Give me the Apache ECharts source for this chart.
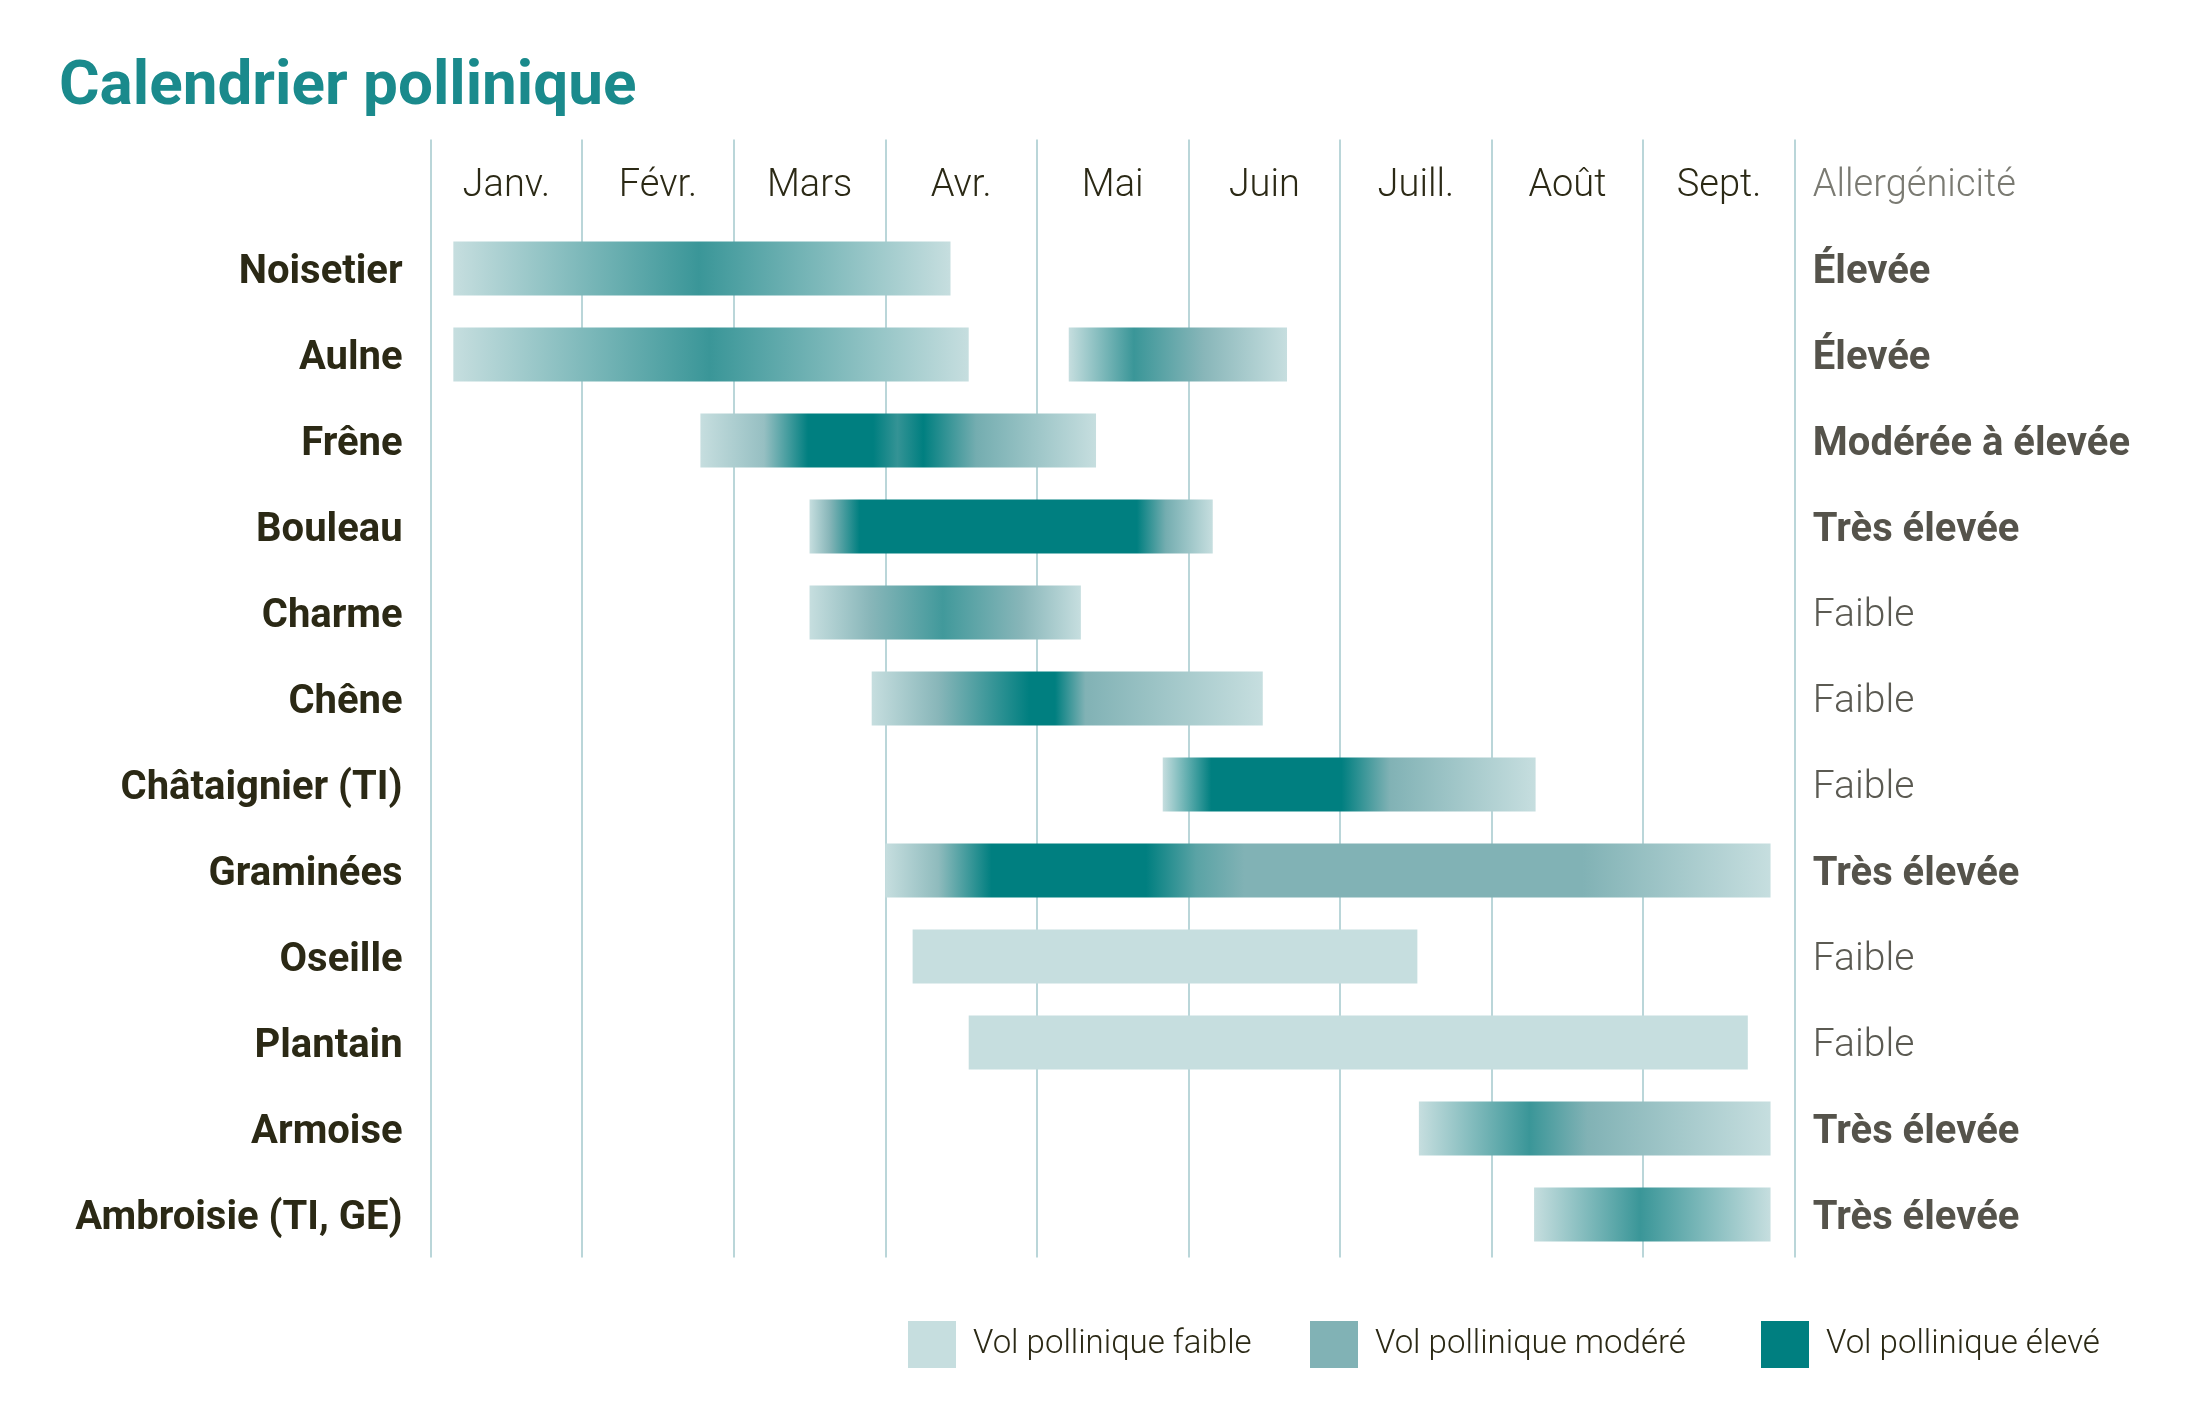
<!DOCTYPE html>
<html>
<head>
    <meta charset="utf-8">
    <title>Calendrier pollinique</title>
    <script src="https://cdn.jsdelivr.net/npm/echarts@6.0.0/dist/echarts.min.js"></script>
    <style>
        html, body { margin: 0; padding: 0; background: #fff; }
        #chart { width: 2185px; height: 1417px; }
    </style>
</head>
<body>
    <div id="chart"></div>
    <script>
        // mois affichés en tête de colonne
        var months = ['Janv.', 'Févr.', 'Mars', 'Avr.', 'Mai', 'Juin', 'Juill.', 'Août', 'Sept.'];
        var plants = ['Noisetier', 'Aulne', 'Frêne', 'Bouleau', 'Charme', 'Chêne', 'Châtaignier (TI)',
            'Graminées', 'Oseille', 'Plantain', 'Armoise', 'Ambroisie (TI, GE)'];
        var allergy = ['Élevée', 'Élevée', 'Modérée à élevée', 'Très élevée', 'Faible', 'Faible', 'Faible',
            'Très élevée', 'Faible', 'Faible', 'Très élevée', 'Très élevée'];
        var levelNames = ['Vol pollinique faible', 'Vol pollinique modéré', 'Vol pollinique élevé'];

        // une barre = une ligne + des points [mois, niveau] (0 faible, 1 modéré, 2 élevé)
        var barRows = [0, 1, 1, 2, 3, 4, 5, 6, 7, 8, 9, 10, 11];
        var barStops = [
            [[0.15, 0], [1.77, 1.55], [3.43, 0]],
            [[0.15, 0], [1.84, 1.55], [3.55, 0]],
            [[4.21, 0], [4.64, 1.55], [5.10, 0.9], [5.65, 0]],
            [[1.78, 0], [2.2, 0.7], [2.49, 2], [2.92, 2], [3.08, 1.6], [3.25, 2], [3.6, 1.1], [4.39, 0]],
            [[2.50, 0], [2.63, 0.9], [2.83, 2], [4.66, 2], [4.85, 1.1], [5.16, 0]],
            [[2.50, 0], [2.9, 0.9], [3.38, 1.5], [3.9, 0.9], [4.29, 0]],
            [[2.91, 0], [3.35, 0.9], [3.95, 2], [4.12, 2], [4.32, 1.0], [4.8, 0.6], [5.49, 0]],
            [[4.83, 0], [5.15, 2], [6.01, 2], [6.33, 1.0], [7.29, 0]],
            [[3.0, 0], [3.35, 0.8], [3.7, 2], [4.72, 2], [5.05, 1.3], [5.37, 1], [7.6, 1], [8.84, 0]],
            [[3.18, 0], [6.51, 0]],
            [[3.55, 0], [8.69, 0]],
            [[6.52, 0], [7.25, 1.55], [7.63, 1], [8.84, 0]],
            [[7.28, 0], [7.98, 1.55], [8.84, 0]]
        ];

        var palette = [[198, 222, 223], [129, 178, 181], [0, 127, 128]];

        function levelColor(lv) {
            var i = Math.min(Math.floor(lv), 1);
            var t = lv - i;
            var a = palette[i], b = palette[i + 1];
            var c = a.map(function (v, k) { return Math.round(v + (b[k] - v) * t); });
            return 'rgb(' + c.join(',') + ')';
        }

        var barData = barStops.map(function (s, i) {
            return [s[0][0], s[s.length - 1][0], barRows[i] + 1, i];
        });

        var chart = echarts.init(document.getElementById('chart'));

        var option = {
            backgroundColor: '#ffffff',
            animation: false,
            title: {
                text: 'Calendrier pollinique',
                left: 54,
                top: 52,
                textStyle: { fontFamily: 'Roboto', fontSize: 62, fontWeight: 'bold', color: '#1a8a8c' }
            },
            legend: levelNames.map(function (n, i) {
                return {
                    data: [n],
                    left: [903, 1305, 1756][i],
                    top: 1316,
                    icon: 'rect',
                    itemWidth: 48,
                    itemHeight: 47,
                    selectedMode: false,
                    textStyle: { fontFamily: 'Roboto', fontWeight: 300, fontSize: 33, color: '#2b2915', padding: [5, 0, 0, 12] }
                };
            }),
            grid: { left: 430.6, right: 390.2, top: 139.5, height: 1118 },
            xAxis: [{
                type: 'value',
                min: 0,
                max: 9,
                interval: 1,
                axisLine: { show: false },
                axisTick: { show: false },
                axisLabel: { show: false },
                splitLine: { show: true, lineStyle: { color: '#a3c9cc', width: 1.5 } }
            }, {
                type: 'category',
                data: months,
                position: 'top',
                axisLine: { show: false },
                axisTick: { show: false },
                axisLabel: {
                    inside: true,
                    margin: 47,
                    verticalAlign: 'middle',
                    fontFamily: 'Roboto',
                    fontWeight: 300,
                    fontSize: 38,
                    color: '#2b2915'
                }
            }],
            yAxis: [{
                type: 'category',
                data: [''].concat(plants),
                inverse: true,
                axisLine: { show: false },
                axisTick: { show: false },
                axisLabel: {
                    margin: 28,
                    padding: [8, 0, 0, 0],
                    formatter: function (v) { return v ? '{n|' + v + '}' : ''; },
                    rich: {
                        n: { fontFamily: 'Roboto', fontWeight: 'bold', fontSize: 40, color: '#2b2915' }
                    }
                }
            }, {
                type: 'category',
                data: ['Allergénicité'].concat(allergy),
                inverse: true,
                position: 'right',
                axisLine: { show: false },
                axisTick: { show: false },
                axisLabel: {
                    margin: 18,
                    padding: [8, 0, 0, 0],
                    formatter: function (v, i) {
                        if (i === 0) return '{h|' + v + '}';
                        return v === 'Faible' ? '{l|' + v + '}' : '{b|' + v + '}';
                    },
                    rich: {
                        h: { fontFamily: 'Roboto', fontWeight: 300, fontSize: 38, color: '#7a7a72' },
                        l: { fontFamily: 'Roboto', fontWeight: 300, fontSize: 39, color: '#5b5a52' },
                        b: { fontFamily: 'Roboto', fontWeight: 'bold', fontSize: 40, color: '#55534b' }
                    }
                }
            }],
            series: [{
                type: 'custom',
                xAxisIndex: 0,
                yAxisIndex: 0,
                encode: { x: [0, 1], y: 2 },
                data: barData,
                renderItem: function (params, api) {
                    var s = api.value(0), e = api.value(1), row = api.value(2);
                    var stops = barStops[api.value(3)];
                    var p0 = api.coord([s, row]);
                    var p1 = api.coord([e, row]);
                    var h = api.size([0, 1])[1] * 0.628;
                    var colorStops = stops.map(function (st) {
                        return { offset: (st[0] - s) / (e - s), color: levelColor(st[1]) };
                    });
                    return {
                        type: 'rect',
                        shape: { x: p0[0], y: p0[1] - h / 2, width: p1[0] - p0[0], height: h },
                        style: { fill: new echarts.graphic.LinearGradient(0, 0, 1, 0, colorStops) }
                    };
                }
            }].concat(levelNames.map(function (n, i) {
                return {
                    name: n,
                    type: 'bar',
                    data: [],
                    itemStyle: { color: levelColor(i) }
                };
            }))
        };

        chart.setOption(option);
    </script>
</body>
</html>
